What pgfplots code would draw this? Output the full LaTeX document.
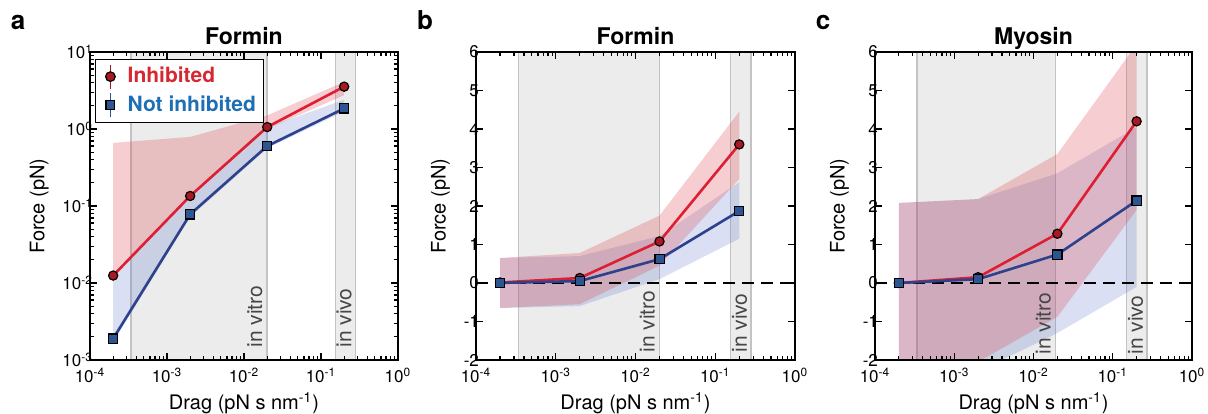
\documentclass[border=0pt]{standalone}
\usepackage{pgfplots}
\pgfplotsset{compat=1.18}
\usepackage{fontspec}
\setmainfont{TeX Gyre Heros}
\definecolor{redL}{RGB}{222,30,50}
\definecolor{redM}{RGB}{170,25,35}
\definecolor{blueL}{RGB}{45,65,140}
\definecolor{blueM}{RGB}{45,85,145}
\definecolor{redB}{RGB}{220,70,80}
\definecolor{blueB}{RGB}{80,105,200}
\definecolor{legRed}{RGB}{215,40,50}
\definecolor{legBlue}{RGB}{30,110,180}
\definecolor{shade}{RGB}{236,236,236}
\definecolor{shadeEdge}{RGB}{195,195,195}
\definecolor{txtgrey}{RGB}{70,70,70}
\tikzset{
  greyband/.style={fill=shade, draw=shadeEdge, line width=0.7pt},
  redband/.style={fill=redB, fill opacity=0.27, draw=none},
  blueband/.style={fill=blueB, fill opacity=0.21, draw=none},
  redline/.style={color=redL, line width=1.3pt, mark=*, mark size=2.3pt,
    mark options={fill=redM, draw=black, line width=0.6pt}},
  blueline/.style={color=blueL, line width=1.3pt, mark=square*, mark size=2.3pt,
    mark options={fill=blueM, draw=black, line width=0.6pt}},
  zeroline/.style={black, line width=1pt, dash pattern=on 6pt off 3.5pt},
  bandtext/.style={rotate=90, anchor=base west, text=txtgrey, font=\fontsize{10.5}{12}\selectfont, inner sep=0pt},
}
\pgfplotsset{
  every axis/.append style={
    scale only axis, height=154pt,
    xmode=log, xmin=1e-4, xmax=1,
    xtick={1e-4,1e-3,1e-2,1e-1,1},
    xticklabels={10\textsuperscript{-4},10\textsuperscript{-3},10\textsuperscript{-2},10\textsuperscript{-1},10\textsuperscript{0}},
    minor xtick={2e-4,3e-4,4e-4,5e-4,6e-4,7e-4,8e-4,9e-4,2e-3,3e-3,4e-3,5e-3,6e-3,7e-3,8e-3,9e-3,2e-2,3e-2,4e-2,5e-2,6e-2,7e-2,8e-2,9e-2,2e-1,3e-1,4e-1,5e-1,6e-1,7e-1,8e-1,9e-1},
    axis line style={line width=1pt},
    major tick length=3.5pt, minor tick length=2pt,
    tick style={black, line width=0.6pt},
    tick label style={font=\fontsize{8.5}{10}\selectfont},
    yticklabel style={xshift=5pt},
    xticklabel style={yshift=-0.5pt},
    label style={font=\fontsize{10}{12}\selectfont},
    xlabel style={yshift=2pt},
    every axis title shift=0pt,
    title style={font=\bfseries\fontsize{11.5}{13}\selectfont, at={(0.5,1)}, anchor=base, yshift=4pt},
    xlabel={Drag (pN s nm\textsuperscript{-1})},
    ylabel={Force (pN)},
    axis on top,
  },
}
\begin{document}
\begin{tikzpicture}
\useasboundingbox (0,0) rectangle (604pt,206.5pt);
\node[font=\bfseries\fontsize{13}{15}\selectfont] at (9pt,195.5pt) {a};
\node[font=\bfseries\fontsize{13}{15}\selectfont] at (212.5pt,196.5pt) {b};
\node[font=\bfseries\fontsize{13}{15}\selectfont] at (411.5pt,195.5pt) {c};

% ---------------- panel a ----------------
\begin{axis}[at={(45pt,26.5pt)}, anchor=south west, width=154pt,
  title={Formin},
  ymode=log, ymin=1e-3, ymax=10,
  ytick={1e-3,1e-2,1e-1,1,10},
  yticklabels={10\textsuperscript{-3},10\textsuperscript{-2},10\textsuperscript{-1},10\textsuperscript{0},10\textsuperscript{1}},
  minor ytick={2e-3,3e-3,4e-3,5e-3,6e-3,7e-3,8e-3,9e-3,2e-2,3e-2,4e-2,5e-2,6e-2,7e-2,8e-2,9e-2,2e-1,3e-1,4e-1,5e-1,6e-1,7e-1,8e-1,9e-1,2,3,4,5,6,7,8,9},
  legend style={at={(0.016,0.977)}, anchor=north west, draw=black, line width=0.6pt, inner sep=1.8pt,
    font=\bfseries\fontsize{10.5}{12}\selectfont, row sep=1pt},
  legend cell align=left,
]
\addplot[greyband, forget plot] coordinates {(3.4e-4,1e-4) (3.4e-4,100) (2e-2,100) (2e-2,1e-4)};
\addplot[greyband, forget plot] coordinates {(0.155,1e-4) (0.155,100) (0.28,100) (0.28,1e-4)};
\addplot[blueband, forget plot] coordinates {(2e-4,0.0125) (2e-3,0.135) (2e-2,1.05) (2e-1,2.4) (2e-1,1.7) (2e-2,0.56) (2e-3,0.072) (2e-4,0.0017)};
\addplot[redband, forget plot] coordinates {(2e-4,0.66) (2e-3,0.79) (2e-2,1.5) (2e-1,4.1) (2e-1,2.75) (2e-2,1.0) (2e-3,0.135) (2e-4,0.0125)};
\addplot[redline, legend image code/.code={
    \draw[redM, line width=0.8pt] (0.5em,-0.6em) -- (0.5em,0.6em);
    \filldraw[fill=redM, draw=black, line width=0.6pt] (0.5em,0pt) circle (2.4pt);
    \path (0pt,0pt) (1.1em,0pt);}]
  coordinates {(2e-4,0.0125) (2e-3,0.135) (2e-2,1.06) (2e-1,3.55)};
\addlegendentry{\textcolor{legRed}{Inhibited}}
\addplot[blueline, legend image code/.code={
    \draw[blueM, line width=0.8pt] (0.5em,-0.6em) -- (0.5em,0.6em);
    \filldraw[fill=blueM, draw=black, line width=0.6pt] (0.5em-2.2pt,-2.2pt) rectangle (0.5em+2.2pt,2.2pt);
    \path (0pt,0pt) (1.1em,0pt);}]
  coordinates {(2e-4,0.0019) (2e-3,0.078) (2e-2,0.60) (2e-1,1.85)};
\addlegendentry{\textcolor{legBlue}{Not inhibited}}
\node[bandtext] at ([xshift=-2.5pt,yshift=6pt]axis cs:2e-2,1e-3) {in vitro};
\node[bandtext] at ([xshift=-2pt,yshift=6pt]axis cs:0.28,1e-3) {in vivo};
\end{axis}

% ---------------- panel b ----------------
\begin{axis}[at={(238pt,26.5pt)}, anchor=south west, width=159.5pt,
  title={Formin},
  ymin=-2, ymax=6, ytick={-2,-1,0,1,2,3,4,5,6},
  yticklabels={-2,-1,0,1,2,3,4,5,6}]
\addplot[greyband] coordinates {(3.4e-4,-5) (3.4e-4,10) (2e-2,10) (2e-2,-5)};
\addplot[greyband] coordinates {(0.155,-5) (0.155,10) (0.28,10) (0.28,-5)};
\addplot[blueband] coordinates {(2e-4,0.65) (2e-3,0.7) (2e-2,1.22) (2e-1,2.62) (2e-1,1.15) (2e-2,0.1) (2e-3,-0.6) (2e-4,-0.65)};
\addplot[redband] coordinates {(2e-4,0.65) (2e-3,0.78) (2e-2,1.75) (2e-1,4.45) (2e-1,2.7) (2e-2,0.45) (2e-3,-0.55) (2e-4,-0.65)};
\addplot[zeroline] coordinates {(1e-4,0) (1,0)};
\addplot[redline] coordinates {(2e-4,0.0125) (2e-3,0.13) (2e-2,1.08) (2e-1,3.6)};
\addplot[blueline] coordinates {(2e-4,0.0019) (2e-3,0.05) (2e-2,0.62) (2e-1,1.87)};
\node[bandtext] at ([xshift=-2.5pt,yshift=3.5pt]axis cs:2e-2,-2) {in vitro};
\node[bandtext] at ([xshift=-2pt,yshift=3.5pt]axis cs:0.28,-2) {in vivo};
\end{axis}

% ---------------- panel c ----------------
\begin{axis}[at={(437.5pt,26.5pt)}, anchor=south west, width=158.5pt,
  title={Myosin},
  ymin=-2, ymax=6, ytick={-2,-1,0,1,2,3,4,5,6},
  yticklabels={-2,-1,0,1,2,3,4,5,6}]
\addplot[greyband] coordinates {(3.4e-4,-5) (3.4e-4,10) (1.9e-2,10) (1.9e-2,-5)};
\addplot[greyband] coordinates {(0.15,-5) (0.15,10) (0.27,10) (0.27,-5)};
\addplot[blueband] coordinates {(2e-4,2.08) (2e-3,2.18) (2e-2,2.85) (2e-1,4.05) (2e-1,-0.1) (2e-2,-1.3) (2e-3,-2.3) (2e-4,-2.6)};
\addplot[redband] coordinates {(2e-4,2.08) (2e-3,2.18) (2e-2,3.35) (2e-1,6.2) (2e-1,1.9) (2e-2,-0.88) (2e-3,-2.05) (2e-4,-2.6)};
\addplot[zeroline] coordinates {(1e-4,0) (1,0)};
\addplot[redline] coordinates {(2e-4,0.0) (2e-3,0.15) (2e-2,1.28) (2e-1,4.2)};
\addplot[blueline] coordinates {(2e-4,0.0) (2e-3,0.1) (2e-2,0.74) (2e-1,2.14)};
\node[bandtext] at ([xshift=-2.5pt,yshift=2.5pt]axis cs:1.9e-2,-2) {in vitro};
\node[bandtext] at ([xshift=-2pt,yshift=2.5pt]axis cs:0.27,-2) {in vivo};
\end{axis}
\end{tikzpicture}
\end{document}
